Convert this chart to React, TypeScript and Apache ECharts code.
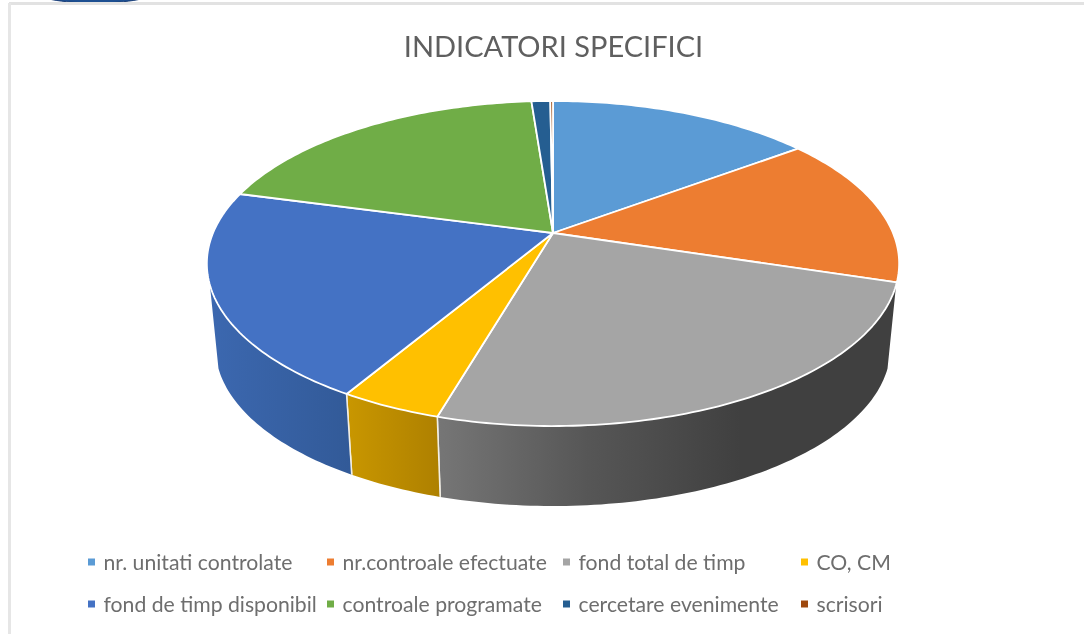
import React, { useEffect, useRef } from "react";
import * as echarts from "echarts";

const categories = [
  "nr. unitati controlate",
  "nr.controale efectuate",
  "fond total de timp",
  "CO, CM",
  "fond de timp disponibil",
  "controale programate",
  "cercetare evenimente",
  "scrisori",
];
const values = [14.8, 15.0, 24.7, 4.0, 20.7, 19.6, 1.05, 0.15];
const colors = ["#5B9BD5", "#ED7D31", "#A5A5A5", "#FFC000", "#4472C4", "#70AD47", "#255E91", "#9E480E"];
const legendLeft = [88, 327, 563, 801, 88, 327, 563, 801];
const legendTop = [551.5, 551.5, 551.5, 551.5, 593.5, 593.5, 593.5, 593.5];

const cx = 553, y0 = 233, A = 156.8, B = 340, k = 0.1877;
const wallScale = 0.975, wallY = 317.8;
const wallFrom = 108.2, wallTo = 251.8;
const rad = Math.PI / 180;

function proj(deg: number, s: number, yc: number): number[] {
  const u = Math.sin(deg * rad), v = -Math.cos(deg * rad), d = 1 - k * v;
  return [cx + (s * B * u) / d, yc + (s * A * v) / d];
}
function arc(a: number, b: number, s: number, yc: number): number[][] {
  const n = Math.max(2, Math.ceil(Math.abs(b - a)));
  const pts: number[][] = [];
  for (let i = 0; i <= n; i++) pts.push(proj(a + ((b - a) * i) / n, s, yc));
  return pts;
}
const stops = (list: [number, string][]) => list.map(([offset, color]) => ({ offset, color }));
function wallFill(i: number) {
  const G = echarts.graphic.LinearGradient as any;
  if (i === 2) return new G(438, 0, 740, 0, stops([[0, "#767676"], [0.5, "#565656"], [1, "#404040"]]), true);
  if (i === 3) return new G(346, 0, 440, 0, stops([[0, "#C99700"], [1, "#AE8000"]]), true);
  if (i === 4) return new G(208, 0, 350, 0, stops([[0, "#3C68B0"], [1, "#325A98"]]), true);
  return colors[i];
}

const total = values.reduce((a, b) => a + b, 0);

function makeRender(i: number) {
  return (_: any, api: any) => {
    const before = values.slice(0, i).reduce((a, b) => a + b, 0);
    const a0 = (before / total) * 360;
    const a1 = ((before + api.value(0)) / total) * 360;
    const children: any[] = [];
    const w0 = Math.max(a0, wallFrom), w1 = Math.min(a1, wallTo);
    if (w1 > w0) {
      children.push({
        type: "polygon",
        shape: { points: [...arc(w0, w1, 1, y0), ...arc(w1, w0, wallScale, wallY)] },
        style: { fill: wallFill(i), stroke: null },
      });
      for (const e of [a0, a1]) {
        if (e > wallFrom + 2 && e < wallTo - 2) {
          children.push({
            type: "line",
            shape: (() => {
              const p = proj(e, 1, y0), q = proj(e, wallScale, wallY);
              return { x1: p[0], y1: p[1], x2: q[0], y2: q[1] };
            })(),
            style: { stroke: "#F2EFE6", lineWidth: 1.5 },
          });
        }
      }
    }
    children.push({
      type: "polygon",
      shape: { points: [[cx, y0], ...arc(a0, a1, 1, y0)] },
      style: { fill: colors[i], stroke: "#FFFFFF", lineWidth: 1.8, lineJoin: "round" },
    });
    return { type: "group", children };
  };
}

export default function App() {
  const ref = useRef<HTMLDivElement>(null);
  useEffect(() => {
    const chart = echarts.init(ref.current!, undefined, { renderer: "svg" });
    chart.setOption({
      animation: false,
      backgroundColor: "#FFFFFF",
      title: {
        text: "INDICATORI SPECIFICI",
        left: 553.5,
        top: 31,
        textAlign: "center",
        padding: 0,
        textStyle: { fontFamily: "Lato", fontSize: 29, fontWeight: "normal", color: "#5F5F5F" },
      },
      legend: categories.map((name, i) => ({
        data: [name],
        left: legendLeft[i],
        top: legendTop[i],
        padding: 0,
        icon: "rect",
        itemWidth: 7,
        itemHeight: 7,
        selectedMode: false,
        textStyle: { fontFamily: "Lato", fontSize: 21.2, color: "#6E6E6E", padding: [0, 0, 0, 3.5] },
      })),
      graphic: [
        { type: "ellipse", shape: { cx: 95, cy: -8, rx: 60, ry: 11 }, style: { fill: "#1D4F91", stroke: "#1A3F78", lineWidth: 1 }, z: 5 },
        { type: "line", shape: { x1: 9, y1: 3.5, x2: 1084, y2: 3.5 }, style: { stroke: "#E2E2E2", lineWidth: 3 }, z: 6 },
        { type: "line", shape: { x1: 9.5, y1: 3, x2: 9.5, y2: 634 }, style: { stroke: "#E6E6E6", lineWidth: 3 }, z: 6 },
      ],
      series: categories.map((name, i) => ({
        type: "custom",
        name,
        coordinateSystem: "none",
        itemStyle: { color: colors[i] },
        data: [values[i]],
        renderItem: makeRender(i),
      })),
    });
    return () => chart.dispose();
  }, []);
  return (
    <div
      ref={ref}
      style={{ position: "fixed", left: 0, top: 0, width: 1084, height: 634, filter: "blur(0.5px)" }}
    />
  );
}
